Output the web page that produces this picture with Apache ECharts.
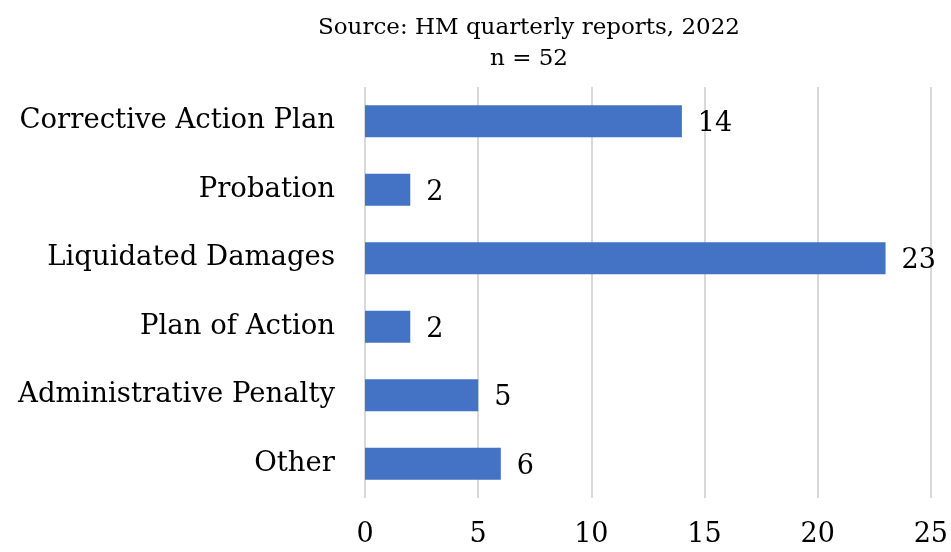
<!DOCTYPE html>
<html><head><meta charset="utf-8">
<script src="https://cdn.jsdelivr.net/npm/echarts@6/dist/echarts.min.js"></script>
<style>html,body{margin:0;padding:0;background:#fff}#c{width:951px;height:552px}</style>
</head><body><div id="c"></div>
<script>
const categories = ["Corrective Action Plan","Probation","Liquidated Damages","Plan of Action","Administrative Penalty","Other"];
const values = [14, 2, 23, 2, 5, 6];
const titleLines = ["Source: HM quarterly reports, 2022", "n = 52"];
const FONT = "DejaVu Serif";
const chart = echarts.init(document.getElementById('c'));
chart.setOption({
  animation: false,
  backgroundColor: '#fff',
  title: {
    text: titleLines.join('\n'),
    left: 524, top: 8, textAlign: 'center',
    textStyle: {fontFamily: FONT, fontSize: 23, fontWeight: 'normal', color: '#000', lineHeight: 31}
  },
  grid: {left: 365, right: 20, top: 87, bottom: 54, containLabel: false},
  xAxis: {
    type: 'value', min: 0, max: 25, interval: 5,
    axisLine: {show: false}, axisTick: {show: false},
    splitLine: {show: true, lineStyle: {color: '#d9d9d9', width: 2}},
    axisLabel: {fontFamily: FONT, fontSize: 27, color: '#000', margin: 23}
  },
  yAxis: {
    type: 'category', data: categories, inverse: true,
    axisLine: {show: false}, axisTick: {show: false},
    axisLabel: {fontFamily: FONT, fontSize: 27.5, color: '#000', margin: 30}
  },
  series: [{
    type: 'bar', data: values, barCategoryGap: '53%',
    itemStyle: {color: '#4472C4'},
    label: {show: true, position: 'right', distance: 16, fontFamily: FONT, fontSize: 27, color: '#000', offset: [0, 3]}
  }]
});
</script></body></html>
